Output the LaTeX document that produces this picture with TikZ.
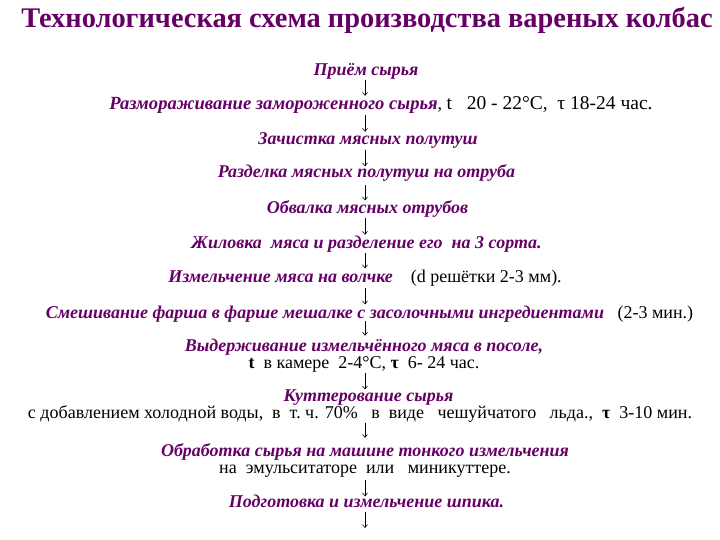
\documentclass[tikz,border=0pt]{standalone}
\usepackage{fontspec}
\setmainfont{Liberation Serif}
\usetikzlibrary{arrows.meta}
\definecolor{plum}{HTML}{660066}
\tikzset{
  stage/.style={inner sep=0pt, align=center, font=\fontsize{18}{17}\selectfont},
  oneline/.style={stage, text height=9pt, text depth=2pt},
  flow/.style={-{Straight Barb[length=3pt,width=5pt]}, line width=0.6pt},
}
\newcommand{\pt}[1]{\textcolor{plum}{\textbf{\textit{#1}}}}
\begin{document}
\begin{tikzpicture}[x=1pt,y=-1pt]
\useasboundingbox[fill=white] (0,0) rectangle (720,540);
\coordinate (axis) at (365,0);
\node[font=\fontsize{28.4}{30}\selectfont\bfseries, text=plum] (title) at (367,20) {Технологическая схема производства вареных колбас};
\node[oneline] (s1) at (366,72.5) {\pt{Приём сырья}};
\node[oneline] (s2) at (381,106.5) {{\fontsize{18.6}{17}\selectfont\pt{Размораживание замороженного сырья}}, {\fontsize{19.5}{17}\selectfont t\ \ \ 20 - 22°C,\ \ τ 18-24 час.}};
\node[oneline] (s3) at (368,141.5) {\pt{Зачистка мясных полутуш}};
\node[oneline] (s4) at (366.5,174.5) {\pt{Разделка мясных полутуш на отруба}};
\node[oneline] (s5) at (367.5,210.5) {\pt{Обвалка мясных отрубов}};
\node[oneline] (s6) at (366.5,244.5) {\pt{Жиловка\ \ мяса и разделение его\ \ на 3 сорта.}};
\node[oneline] (s7) at (365,278.5) {\pt{Измельчение мяса на волчке}\ \ \ \ (d решётки 2-3 мм).};
\node[oneline] (s8) at (369.5,314.5) {\pt{Смешивание фарша в фарше мешалке с засолочными ингредиентами}\ \ \ (2-3 мин.)};
\node[stage] (s9) at (364,356) {\pt{Выдерживание измельчённого мяса в посоле,}\\ \textbf{t}\ \ в камере\ \ 2-4°С, \textbf{τ}\ \ 6- 24 час.};
\node[stage] (s10) at (360,406) {\hspace*{17pt}\pt{Куттерование сырья}\\ с\ добавлением холодной\ воды,\ \ в\ \ т.\ ч. 70\%\ \ \ в\ \ виде\ \ \ чешуйчатого\ \ \ льда.,\ \ \textbf{τ}\ \ 3-10 мин.};
\node[stage] (s11) at (365,460) {\pt{Обработка сырья на машине тонкого измельчения}\\ на\ \ эмульситаторе\ \ или\ \ \ миникуттере.};
\node[oneline] (s12) at (366.5,503.5) {\pt{Подготовка и измельчение шпика.}};
\coordinate (end) at (365,528);
\draw[flow, shorten <=2pt, shorten >=5pt] (s1.south -| axis) -- (s2.north -| axis);
\draw[flow, shorten <=3pt, shorten >=4pt] (s2.south -| axis) -- (s3.north -| axis);
\draw[flow, shorten <=3pt, shorten >=2.5pt] (s3.south -| axis) -- (s4.north -| axis);
\draw[flow, shorten <=4.5pt, shorten >=4.5pt] (s4.south -| axis) -- (s5.north -| axis);
\draw[flow, shorten <=2pt, shorten >=4pt] (s5.south -| axis) -- (s6.north -| axis);
\draw[flow, shorten <=3pt, shorten >=4.5pt] (s6.south -| axis) -- (s7.north -| axis);
\draw[flow, shorten <=4pt, shorten >=4.5pt] (s7.south -| axis) -- (s8.north -| axis);
\draw[flow, shorten <=0.5pt, shorten >=3.5pt] (s8.south -| axis) -- (s9.north -| axis);
\draw[flow, shorten <=0.5pt, shorten >=0pt] (s9.south -| axis) -- (s10.north -| axis);
\draw[flow, shorten <=0pt, shorten >=5pt] (s10.south -| axis) -- (s11.north -| axis);
\draw[flow, shorten <=3pt, shorten >=1.5pt] (s11.south -| axis) -- (s12.north -| axis);
\draw[flow, shorten <=3pt] (s12.south -| axis) -- (end);
\end{tikzpicture}
\end{document}
